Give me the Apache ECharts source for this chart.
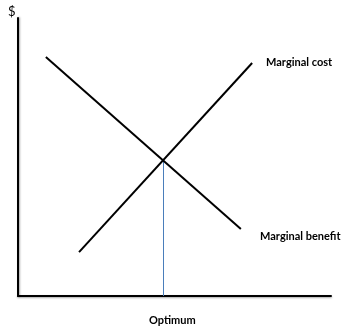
<!DOCTYPE html>
<html><head><meta charset="utf-8">
<script src="https://cdn.jsdelivr.net/npm/echarts@6/dist/echarts.min.js"></script>
<style>html,body{margin:0;padding:0;background:#fff}#c{width:363px;height:336px}</style>
</head><body><div id="c"></div>
<script>
const marginalBenefit = [[8.9, 86.0], [71.2, 24.1]];
const marginalCost = [[19.5, 15.8], [74.8, 83.8]];
const optimum = [[46.49, 0], [46.49, 48.6]];
const labels = ['Marginal cost', 'Marginal benefit', 'Optimum', '$'];

const chart = echarts.init(document.getElementById('c'));
const lbl = {fontFamily: 'Lato', fontWeight: 'bold', fontSize: 11, fill: '#000'};
chart.setOption({
  animation: false,
  grid: {left: 18, right: 32, top: 18, bottom: 40},
  xAxis: {type: 'value', min: 0, max: 100, axisLine: {show: true, lineStyle: {color: '#000', width: 2, shadowColor: 'rgba(0,0,0,0.35)', shadowBlur: 2, shadowOffsetY: 1}}, axisTick: {show: false}, axisLabel: {show: false}, splitLine: {show: false}},
  yAxis: {type: 'value', min: 0, max: 100, axisLine: {show: true, lineStyle: {color: '#000', width: 2, shadowColor: 'rgba(0,0,0,0.35)', shadowBlur: 2, shadowOffsetX: 1}}, axisTick: {show: false}, axisLabel: {show: false}, splitLine: {show: false}},
  series: [
    {type: 'line', data: marginalBenefit, symbol: 'none', lineStyle: {color: '#000', width: 2}},
    {type: 'line', data: marginalCost, symbol: 'none', lineStyle: {color: '#000', width: 2}},
    {type: 'line', data: optimum, symbol: 'none', lineStyle: {color: '#4a7ebb', width: 1}, z: 1}
  ],
  graphic: [
    {type: 'text', left: 266, top: 57, style: Object.assign({text: labels[0]}, lbl)},
    {type: 'text', left: 260, top: 231, style: Object.assign({text: labels[1]}, lbl)},
    {type: 'text', left: 149, top: 315, style: Object.assign({text: labels[2]}, lbl)},
    {type: 'text', left: 8, top: 5, style: {text: labels[3], fontFamily: 'Lato', fontSize: 13, fill: '#000'}}
  ]
});
</script></body></html>
